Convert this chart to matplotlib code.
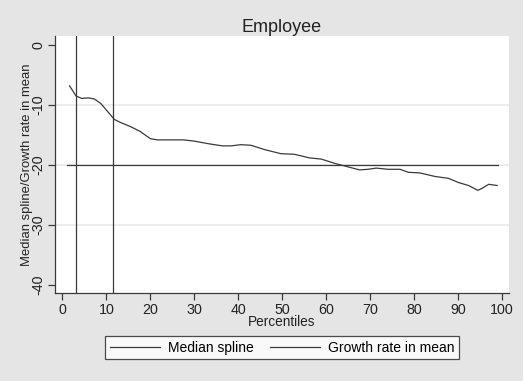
import numpy as np
import matplotlib
matplotlib.use("Agg")
import matplotlib.pyplot as plt

plt.rcParams['font.family'] = ['Liberation Sans', 'DejaVu Sans']

# median spline of employee growth by percentile
pct = [1.6, 3.1, 4.4, 5.9, 7.3, 8.8, 10.3, 11.8, 13.2, 15.5, 17.7, 20.0, 21.6,
       24.6, 27.6, 29.9, 33.7, 36.4, 38.3, 40.6, 42.9, 45.9, 49.7, 52.8, 56.2,
       58.9, 61.9, 65.0, 67.6, 69.5, 71.4, 74.1, 76.8, 78.7, 81.3, 84.8, 87.8,
       90.1, 92.4, 94.5, 95.4, 97.0, 98.9]
median_spline = [-6.8, -8.5, -8.9, -8.8, -9.0, -9.8, -11.1, -12.4, -12.9, -13.6,
                 -14.4, -15.6, -15.8, -15.8, -15.8, -16.0, -16.5, -16.8, -16.8,
                 -16.6, -16.7, -17.4, -18.1, -18.2, -18.8, -19.0, -19.7, -20.3,
                 -20.8, -20.7, -20.5, -20.7, -20.7, -21.2, -21.3, -21.9, -22.2,
                 -22.9, -23.4, -24.2, -23.9, -23.2, -23.4]
mean_growth = -20.0
mean_span = [1, 99]
vlines = [3.0, 11.6]

bg = '#e5e5e5'
ink = '#3a3a3a'

fig = plt.figure(figsize=(5.23, 3.81), dpi=100, facecolor=bg)
ax = fig.add_axes([0.1052, 0.231, 0.868, 0.6745])
ax.set_facecolor('white')

for y in [-10, -20, -30]:
    ax.axhline(y, color='#eaeaea', lw=1.2, zorder=0)

ax.plot(pct, median_spline, color=ink, lw=0.9, label='Median spline')
ax.plot(mean_span, [mean_growth, mean_growth], color=ink, lw=0.9,
        label='Growth rate in mean')
for v in vlines:
    ax.axvline(v, color=ink, lw=0.9)

ax.set_xlim(-1.7, 101.6)
ax.set_ylim(-41.3, 1.5)
ax.set_xticks(np.arange(0, 101, 10))
ax.set_yticks([0, -10, -20, -30, -40])
ax.set_yticklabels(['0', '-10', '-20', '-30', '-40'], rotation=90, va='center')

for s in ['top', 'right']:
    ax.spines[s].set_visible(False)
for s in ['left', 'bottom']:
    ax.spines[s].set_color(ink)
    ax.spines[s].set_linewidth(0.9)
ax.tick_params(direction='out', length=5, width=0.9, color=ink,
               labelsize=10.3, labelcolor='#222222', pad=2)

ax.set_title('Employee', fontsize=13, color='#222222', pad=3)
ax.set_xlabel('Percentiles', fontsize=9.8, color='#222222', labelpad=-1)
ax.set_ylabel('Median spline/Growth rate in mean', fontsize=9.4,
              color='#222222', labelpad=-1)

leg = ax.legend(loc='upper center', bbox_to_anchor=(0.5, -0.166), ncol=2,
                frameon=True, fancybox=False, fontsize=10, handlelength=3.6,
                columnspacing=1.2, borderpad=0.35, handletextpad=0.55,
                borderaxespad=0)
leg.get_frame().set_edgecolor('#222222')
leg.get_frame().set_linewidth(0.9)

fig.savefig('out.png', dpi=100, facecolor=bg)
